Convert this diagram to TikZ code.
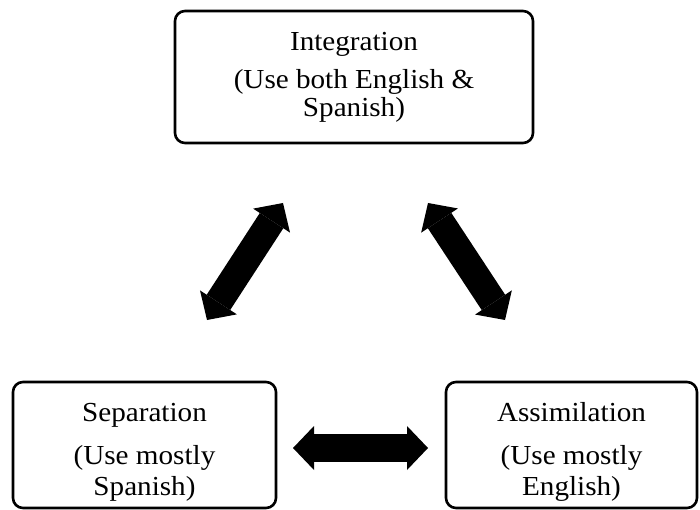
\documentclass[tikz,border=0pt]{standalone}
\usepackage{fontspec}
\setmainfont{Liberation Serif}[FakeStretch=1.06]
\usetikzlibrary{arrows.meta}
\tikzset{
  stagebox/.style={draw=black, line width=2.6pt, rounded corners=10pt, fill=white,
    inner sep=0pt},
  toptext/.style={align=center, inner sep=0pt, font=\fontsize{27.5}{28}\selectfont},
  bottext/.style={align=center, inner sep=0pt, font=\fontsize{27.5}{31}\selectfont},
  bigarrow/.style={line width=28pt,
    {Triangle[width=44pt,length=21pt,line width=0pt]}-{Triangle[width=44pt,length=21pt,line width=0pt]}}
}
\begin{document}
\begin{tikzpicture}[x=1pt,y=-1pt]
\useasboundingbox (0,0) rectangle (700,510);
\node[stagebox, minimum width=358pt, minimum height=132pt] (integ) at (354,77) {};
\node[toptext] (integtext) at (integ.center)
  {Integration\\[10pt](Use both English \&\\Spanish)};
\node[stagebox, minimum width=263pt, minimum height=126pt] (sep) at (144.5,445) {};
\node[bottext] (septext) at ([yshift=-7pt]sep.center)
  {Separation\\[12pt](Use mostly\\Spanish)};
\node[stagebox, minimum width=251pt, minimum height=126pt] (assim) at (571.5,445) {};
\node[bottext] (assimtext) at ([yshift=-7pt]assim.center)
  {Assimilation\\[12pt](Use mostly\\English)};
\coordinate (a1) at (207,320);
\coordinate (a2) at (283,203);
\coordinate (b1) at (428,203);
\coordinate (b2) at (505,320);
\coordinate (c1) at (293,448);
\coordinate (c2) at (428,448);
\draw[bigarrow] (a1) -- (a2);
\draw[bigarrow] (b1) -- (b2);
\draw[bigarrow] (c1) -- (c2);
\end{tikzpicture}
\end{document}
